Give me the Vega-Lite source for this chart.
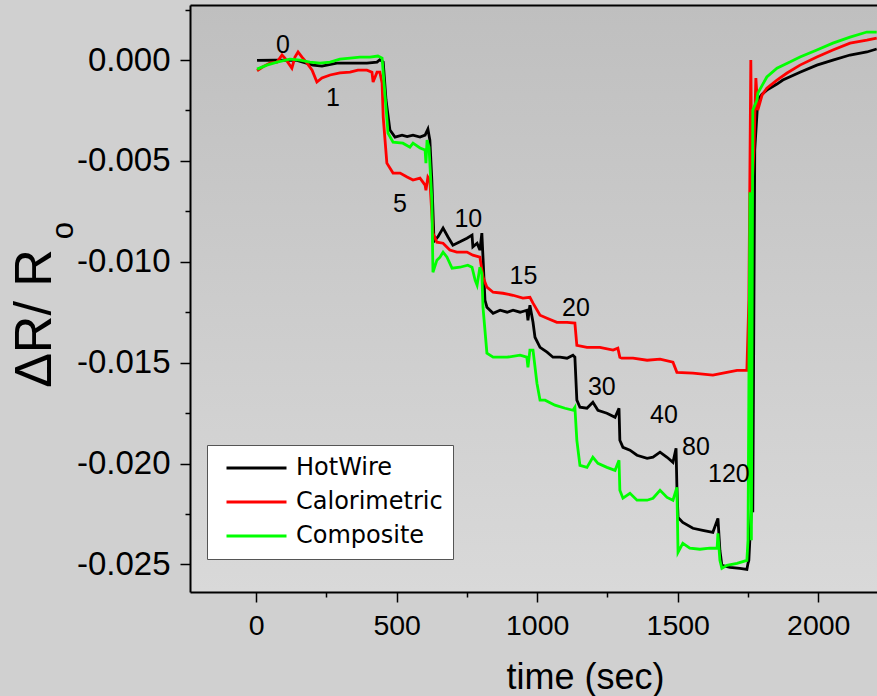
{
  "$schema": "https://vega.github.io/schema/vega-lite/v6.json",
  "width": 687,
  "height": 587,
  "autosize": {"type": "none"},
  "padding": {"left": 190, "top": 5, "right": 0, "bottom": 104},
  "background": "#d0d0d0",
  "config": {
    "view": {"stroke": null, "fill": {"gradient": "linear", "x1": 0, "y1": 0, "x2": 0, "y2": 1, "stops": [{"offset": 0, "color": "#bfbfbf"}, {"offset": 1, "color": "#d9d9d9"}]}},
    "axis": {"grid": false, "domainColor": "#000000", "domainWidth": 2, "tickColor": "#000000", "tickWidth": 1.5, "labelColor": "#000000", "titleColor": "#000000", "labelFont": "Liberation Sans", "titleFont": "Liberation Sans", "titleFontWeight": "normal"},
    "text": {"font": "Liberation Sans"}
  },
  "datasets": {
    "series": [
      {"s":"HotWire","t":3,"y":-0.00002},{"s":"HotWire","t":67,"y":0},{"s":"HotWire","t":145,"y":-0.00002},{"s":"HotWire","t":202,"y":-0.00025},{"s":"HotWire","t":234,"y":-0.0003},{"s":"HotWire","t":287,"y":-0.00015},{"s":"HotWire","t":344,"y":-0.00015},{"s":"HotWire","t":394,"y":-0.00015},{"s":"HotWire","t":430,"y":-0.0001},{"s":"HotWire","t":440,"y":0.00002},{"s":"HotWire","t":452,"y":-0.0001},{"s":"HotWire","t":462,"y":-0.00198},{"s":"HotWire","t":476,"y":-0.00347},{"s":"HotWire","t":494,"y":-0.00382},{"s":"HotWire","t":519,"y":-0.00372},{"s":"HotWire","t":537,"y":-0.00379},{"s":"HotWire","t":558,"y":-0.00372},{"s":"HotWire","t":583,"y":-0.00382},{"s":"HotWire","t":601,"y":-0.00372},{"s":"HotWire","t":611,"y":-0.00342},{"s":"HotWire","t":618,"y":-0.00397},{"s":"HotWire","t":625,"y":-0.00595},{"s":"HotWire","t":632,"y":-0.00868},{"s":"HotWire","t":636,"y":-0.00893},{"s":"HotWire","t":647,"y":-0.00876},{"s":"HotWire","t":665,"y":-0.00833},{"s":"HotWire","t":682,"y":-0.00876},{"s":"HotWire","t":700,"y":-0.00918},{"s":"HotWire","t":725,"y":-0.00901},{"s":"HotWire","t":750,"y":-0.00883},{"s":"HotWire","t":768,"y":-0.00868},{"s":"HotWire","t":771,"y":-0.00926},{"s":"HotWire","t":786,"y":-0.00908},{"s":"HotWire","t":796,"y":-0.00942},{"s":"HotWire","t":803,"y":-0.00858},{"s":"HotWire","t":807,"y":-0.00977},{"s":"HotWire","t":814,"y":-0.0119},{"s":"HotWire","t":821,"y":-0.01225},{"s":"HotWire","t":843,"y":-0.01255},{"s":"HotWire","t":868,"y":-0.0124},{"s":"HotWire","t":893,"y":-0.0125},{"s":"HotWire","t":914,"y":-0.0124},{"s":"HotWire","t":939,"y":-0.0125},{"s":"HotWire","t":963,"y":-0.0124},{"s":"HotWire","t":967,"y":-0.0129},{"s":"HotWire","t":974,"y":-0.01215},{"s":"HotWire","t":985,"y":-0.013},{"s":"HotWire","t":992,"y":-0.01374},{"s":"HotWire","t":1010,"y":-0.01424},{"s":"HotWire","t":1035,"y":-0.01448},{"s":"HotWire","t":1056,"y":-0.01473},{"s":"HotWire","t":1081,"y":-0.01473},{"s":"HotWire","t":1106,"y":-0.01478},{"s":"HotWire","t":1127,"y":-0.01463},{"s":"HotWire","t":1134,"y":-0.01473},{"s":"HotWire","t":1141,"y":-0.01686},{"s":"HotWire","t":1152,"y":-0.01721},{"s":"HotWire","t":1177,"y":-0.01726},{"s":"HotWire","t":1198,"y":-0.01696},{"s":"HotWire","t":1216,"y":-0.01736},{"s":"HotWire","t":1248,"y":-0.01751},{"s":"HotWire","t":1277,"y":-0.01771},{"s":"HotWire","t":1291,"y":-0.01726},{"s":"HotWire","t":1294,"y":-0.01885},{"s":"HotWire","t":1305,"y":-0.0192},{"s":"HotWire","t":1330,"y":-0.01934},{"s":"HotWire","t":1355,"y":-0.01959},{"s":"HotWire","t":1391,"y":-0.01974},{"s":"HotWire","t":1412,"y":-0.01969},{"s":"HotWire","t":1437,"y":-0.01944},{"s":"HotWire","t":1462,"y":-0.01969},{"s":"HotWire","t":1483,"y":-0.01994},{"s":"HotWire","t":1494,"y":-0.01924},{"s":"HotWire","t":1497,"y":-0.02118},{"s":"HotWire","t":1501,"y":-0.02267},{"s":"HotWire","t":1518,"y":-0.02292},{"s":"HotWire","t":1554,"y":-0.02321},{"s":"HotWire","t":1589,"y":-0.02331},{"s":"HotWire","t":1625,"y":-0.02341},{"s":"HotWire","t":1643,"y":-0.02272},{"s":"HotWire","t":1650,"y":-0.0243},{"s":"HotWire","t":1657,"y":-0.02505},{"s":"HotWire","t":1686,"y":-0.02515},{"s":"HotWire","t":1721,"y":-0.0252},{"s":"HotWire","t":1746,"y":-0.02525},{"s":"HotWire","t":1750,"y":-0.02495},{"s":"HotWire","t":1753,"y":-0.0248},{"s":"HotWire","t":1764,"y":-0.02168},{"s":"HotWire","t":1767,"y":-0.02242},{"s":"HotWire","t":1774,"y":-0.00446},{"s":"HotWire","t":1785,"y":-0.00198},{"s":"HotWire","t":1800,"y":-0.00169},{"s":"HotWire","t":1817,"y":-0.00149},{"s":"HotWire","t":1853,"y":-0.00119},{"s":"HotWire","t":1874,"y":-0.00099},{"s":"HotWire","t":1935,"y":-0.0006},{"s":"HotWire","t":1995,"y":-0.00025},{"s":"HotWire","t":2052,"y":0},{"s":"HotWire","t":2113,"y":0.00025},{"s":"HotWire","t":2173,"y":0.0004},{"s":"HotWire","t":2208,"y":0.00055},
      {"s":"Calorimetric","t":3,"y":-0.00053},{"s":"Calorimetric","t":24,"y":-0.00033},{"s":"Calorimetric","t":49,"y":-0.00015},{"s":"Calorimetric","t":74,"y":-0.0001},{"s":"Calorimetric","t":92,"y":0.00025},{"s":"Calorimetric","t":102,"y":0.0001},{"s":"Calorimetric","t":127,"y":-0.0004},{"s":"Calorimetric","t":138,"y":0.00015},{"s":"Calorimetric","t":149,"y":0.0004},{"s":"Calorimetric","t":163,"y":0.00015},{"s":"Calorimetric","t":181,"y":-0.00015},{"s":"Calorimetric","t":199,"y":-0.0005},{"s":"Calorimetric","t":216,"y":-0.00109},{"s":"Calorimetric","t":234,"y":-0.00089},{"s":"Calorimetric","t":263,"y":-0.00074},{"s":"Calorimetric","t":298,"y":-0.00064},{"s":"Calorimetric","t":334,"y":-0.0006},{"s":"Calorimetric","t":362,"y":-0.0005},{"s":"Calorimetric","t":394,"y":-0.0005},{"s":"Calorimetric","t":412,"y":-0.0006},{"s":"Calorimetric","t":416,"y":-0.00109},{"s":"Calorimetric","t":430,"y":-0.0006},{"s":"Calorimetric","t":440,"y":-0.0006},{"s":"Calorimetric","t":448,"y":-0.00114},{"s":"Calorimetric","t":452,"y":-0.00283},{"s":"Calorimetric","t":465,"y":-0.00511},{"s":"Calorimetric","t":487,"y":-0.0056},{"s":"Calorimetric","t":512,"y":-0.0056},{"s":"Calorimetric","t":537,"y":-0.0058},{"s":"Calorimetric","t":558,"y":-0.00595},{"s":"Calorimetric","t":583,"y":-0.00585},{"s":"Calorimetric","t":601,"y":-0.0062},{"s":"Calorimetric","t":604,"y":-0.00645},{"s":"Calorimetric","t":611,"y":-0.0058},{"s":"Calorimetric","t":618,"y":-0.00595},{"s":"Calorimetric","t":629,"y":-0.00858},{"s":"Calorimetric","t":643,"y":-0.00903},{"s":"Calorimetric","t":665,"y":-0.00908},{"s":"Calorimetric","t":689,"y":-0.00942},{"s":"Calorimetric","t":714,"y":-0.00952},{"s":"Calorimetric","t":750,"y":-0.00952},{"s":"Calorimetric","t":771,"y":-0.00967},{"s":"Calorimetric","t":796,"y":-0.00977},{"s":"Calorimetric","t":807,"y":-0.01076},{"s":"Calorimetric","t":821,"y":-0.01126},{"s":"Calorimetric","t":843,"y":-0.01151},{"s":"Calorimetric","t":878,"y":-0.01156},{"s":"Calorimetric","t":914,"y":-0.01166},{"s":"Calorimetric","t":949,"y":-0.0118},{"s":"Calorimetric","t":974,"y":-0.01176},{"s":"Calorimetric","t":985,"y":-0.01205},{"s":"Calorimetric","t":1010,"y":-0.01265},{"s":"Calorimetric","t":1035,"y":-0.0128},{"s":"Calorimetric","t":1070,"y":-0.013},{"s":"Calorimetric","t":1106,"y":-0.013},{"s":"Calorimetric","t":1134,"y":-0.01304},{"s":"Calorimetric","t":1141,"y":-0.01414},{"s":"Calorimetric","t":1177,"y":-0.01424},{"s":"Calorimetric","t":1223,"y":-0.01424},{"s":"Calorimetric","t":1270,"y":-0.01438},{"s":"Calorimetric","t":1287,"y":-0.01428},{"s":"Calorimetric","t":1294,"y":-0.01473},{"s":"Calorimetric","t":1301,"y":-0.01478},{"s":"Calorimetric","t":1341,"y":-0.01478},{"s":"Calorimetric","t":1391,"y":-0.01488},{"s":"Calorimetric","t":1437,"y":-0.01483},{"s":"Calorimetric","t":1483,"y":-0.01498},{"s":"Calorimetric","t":1497,"y":-0.01548},{"s":"Calorimetric","t":1554,"y":-0.01552},{"s":"Calorimetric","t":1625,"y":-0.01562},{"s":"Calorimetric","t":1661,"y":-0.01552},{"s":"Calorimetric","t":1711,"y":-0.01538},{"s":"Calorimetric","t":1746,"y":-0.01538},{"s":"Calorimetric","t":1753,"y":-0.0119},{"s":"Calorimetric","t":1760,"y":0},{"s":"Calorimetric","t":1764,"y":-0.00645},{"s":"Calorimetric","t":1771,"y":-0.00446},{"s":"Calorimetric","t":1778,"y":-0.00089},{"s":"Calorimetric","t":1785,"y":-0.00248},{"s":"Calorimetric","t":1800,"y":-0.00174},{"s":"Calorimetric","t":1817,"y":-0.00139},{"s":"Calorimetric","t":1853,"y":-0.00099},{"s":"Calorimetric","t":1889,"y":-0.00064},{"s":"Calorimetric","t":1935,"y":-0.00025},{"s":"Calorimetric","t":1995,"y":0.00015},{"s":"Calorimetric","t":2052,"y":0.0005},{"s":"Calorimetric","t":2113,"y":0.00084},{"s":"Calorimetric","t":2173,"y":0.00099},{"s":"Calorimetric","t":2208,"y":0.00109},
      {"s":"Composite","t":3,"y":-0.00045},{"s":"Composite","t":38,"y":-0.00025},{"s":"Composite","t":74,"y":-0.0001},{"s":"Composite","t":120,"y":0.00005},{"s":"Composite","t":156,"y":0},{"s":"Composite","t":191,"y":-0.0001},{"s":"Composite","t":227,"y":-0.00015},{"s":"Composite","t":263,"y":-0.0001},{"s":"Composite","t":298,"y":0.00005},{"s":"Composite","t":334,"y":0.0001},{"s":"Composite","t":369,"y":0.00015},{"s":"Composite","t":405,"y":0.00015},{"s":"Composite","t":433,"y":0.0002},{"s":"Composite","t":448,"y":0.0001},{"s":"Composite","t":459,"y":-0.00184},{"s":"Composite","t":469,"y":-0.00362},{"s":"Composite","t":487,"y":-0.00407},{"s":"Composite","t":522,"y":-0.00412},{"s":"Composite","t":547,"y":-0.00432},{"s":"Composite","t":558,"y":-0.00412},{"s":"Composite","t":583,"y":-0.00436},{"s":"Composite","t":601,"y":-0.00446},{"s":"Composite","t":604,"y":-0.00511},{"s":"Composite","t":608,"y":-0.00397},{"s":"Composite","t":615,"y":-0.00432},{"s":"Composite","t":625,"y":-0.00694},{"s":"Composite","t":629,"y":-0.01052},{"s":"Composite","t":643,"y":-0.00992},{"s":"Composite","t":654,"y":-0.00977},{"s":"Composite","t":665,"y":-0.00952},{"s":"Composite","t":679,"y":-0.00977},{"s":"Composite","t":697,"y":-0.01032},{"s":"Composite","t":725,"y":-0.01027},{"s":"Composite","t":753,"y":-0.01017},{"s":"Composite","t":768,"y":-0.01027},{"s":"Composite","t":779,"y":-0.01091},{"s":"Composite","t":786,"y":-0.01116},{"s":"Composite","t":796,"y":-0.01027},{"s":"Composite","t":803,"y":-0.01057},{"s":"Composite","t":807,"y":-0.01225},{"s":"Composite","t":821,"y":-0.01453},{"s":"Composite","t":843,"y":-0.01473},{"s":"Composite","t":893,"y":-0.01473},{"s":"Composite","t":939,"y":-0.01463},{"s":"Composite","t":963,"y":-0.01473},{"s":"Composite","t":967,"y":-0.01523},{"s":"Composite","t":974,"y":-0.01438},{"s":"Composite","t":985,"y":-0.01438},{"s":"Composite","t":999,"y":-0.01602},{"s":"Composite","t":1010,"y":-0.01686},{"s":"Composite","t":1028,"y":-0.01686},{"s":"Composite","t":1063,"y":-0.01711},{"s":"Composite","t":1099,"y":-0.01726},{"s":"Composite","t":1127,"y":-0.01736},{"s":"Composite","t":1134,"y":-0.01721},{"s":"Composite","t":1141,"y":-0.01885},{"s":"Composite","t":1152,"y":-0.02009},{"s":"Composite","t":1177,"y":-0.02019},{"s":"Composite","t":1198,"y":-0.01969},{"s":"Composite","t":1216,"y":-0.01999},{"s":"Composite","t":1248,"y":-0.02019},{"s":"Composite","t":1277,"y":-0.02034},{"s":"Composite","t":1291,"y":-0.01984},{"s":"Composite","t":1294,"y":-0.02133},{"s":"Composite","t":1305,"y":-0.02172},{"s":"Composite","t":1330,"y":-0.02148},{"s":"Composite","t":1355,"y":-0.02182},{"s":"Composite","t":1391,"y":-0.02182},{"s":"Composite","t":1412,"y":-0.02172},{"s":"Composite","t":1437,"y":-0.02133},{"s":"Composite","t":1462,"y":-0.02168},{"s":"Composite","t":1483,"y":-0.02182},{"s":"Composite","t":1497,"y":-0.02118},{"s":"Composite","t":1501,"y":-0.0244},{"s":"Composite","t":1518,"y":-0.02396},{"s":"Composite","t":1543,"y":-0.0242},{"s":"Composite","t":1579,"y":-0.02425},{"s":"Composite","t":1614,"y":-0.0242},{"s":"Composite","t":1640,"y":-0.0242},{"s":"Composite","t":1643,"y":-0.02346},{"s":"Composite","t":1650,"y":-0.0248},{"s":"Composite","t":1657,"y":-0.0252},{"s":"Composite","t":1675,"y":-0.02505},{"s":"Composite","t":1711,"y":-0.02495},{"s":"Composite","t":1746,"y":-0.0248},{"s":"Composite","t":1750,"y":-0.02381},{"s":"Composite","t":1757,"y":-0.00655},{"s":"Composite","t":1762,"y":-0.02381},{"s":"Composite","t":1767,"y":-0.00248},{"s":"Composite","t":1782,"y":-0.00198},{"s":"Composite","t":1785,"y":-0.00164},{"s":"Composite","t":1817,"y":-0.00084},{"s":"Composite","t":1853,"y":-0.0004},{"s":"Composite","t":1899,"y":-0.0001},{"s":"Composite","t":1935,"y":0.00015},{"s":"Composite","t":1995,"y":0.0005},{"s":"Composite","t":2052,"y":0.00084},{"s":"Composite","t":2113,"y":0.00114},{"s":"Composite","t":2173,"y":0.00139},{"s":"Composite","t":2208,"y":0.00139}
    ],
    "labels": [
      {"label":"0","t":95,"y":0.00077},{"label":"1","t":273,"y":-0.00188},{"label":"5","t":512,"y":-0.00714},{"label":"10","t":755,"y":-0.00789},{"label":"15","t":951,"y":-0.01071},{"label":"20","t":1138,"y":-0.01228},{"label":"30","t":1230,"y":-0.01622},{"label":"40","t":1451,"y":-0.01761},{"label":"80","t":1565,"y":-0.0192},{"label":"120","t":1682,"y":-0.02054}
    ]
  },
  "layer": [
    {
      "data": {"name": "series"},
      "mark": {"type": "line", "strokeWidth": 2.8, "clip": true},
      "encoding": {
        "x": {"field": "t", "type": "quantitative", "scale": {"domain": [-235.5, 2209], "nice": false, "zero": false},
          "axis": {"orient": "bottom", "title": "time (sec)", "values": [0, 500, 1000, 1500, 2000], "format": "d", "tickSize": 10, "labelFontSize": 28.5, "labelPadding": 9, "labelFlush": false, "labelOverlap": false, "titleFontSize": 36, "titleX": 395, "titleY": 96, "titleAlign": "center", "titleBaseline": "alphabetic"}},
        "y": {"field": "y", "type": "quantitative", "scale": {"domain": [-0.02637, 0.00273], "nice": false, "zero": false},
          "axis": {"orient": "left", "title": "ΔR/ R", "values": [-0.025, -0.02, -0.015, -0.01, -0.005, 0], "labelExpr": "replace(format(datum.value, '.3f'), '\u2212', '-')", "tickSize": 10, "labelFontSize": 33, "labelPadding": 10, "labelFlush": false, "labelOverlap": false, "titleFontSize": 52, "titleX": -140, "titleY": 313, "titleAlign": "center", "titleBaseline": "alphabetic", "titleAngle": 270}},
        "color": {"field": "s", "type": "nominal", "scale": {"domain": ["HotWire", "Calorimetric", "Composite"], "range": ["#000000", "#ff0000", "#00ff00"]},
          "legend": {"title": null, "orient": "none", "legendX": 17, "legendY": 440, "fillColor": "#ffffff", "strokeColor": "#555555", "padding": 10, "symbolType": "stroke", "symbolSize": 3600, "symbolStrokeWidth": 3, "symbolOffset": 8, "labelFont": "DejaVu Sans", "labelFontSize": 24, "labelColor": "#000000", "labelOffset": 8, "clipHeight": 26, "rowPadding": 8, "labelLimit": 300}}
      }
    },
    {
      "data": {"name": "labels"},
      "mark": {"type": "text", "fontSize": 25, "color": "#000000", "align": "center", "baseline": "middle"},
      "encoding": {
        "x": {"field": "t", "type": "quantitative", "axis": {"orient": "top", "labels": false, "ticks": false, "title": null, "domainWidth": 2}},
        "y": {"field": "y", "type": "quantitative", "axis": {"orient": "left", "title": "o", "labels": false, "ticks": false, "domain": false, "titleFontSize": 31, "titleX": -127, "titleY": 225, "titleAlign": "center", "titleBaseline": "middle", "titleAngle": 270}},
        "text": {"field": "label"}
      }
    },
    {
      "data": {"name": "labels"},
      "mark": {"type": "point", "opacity": 0},
      "encoding": {
        "x": {"field": "t", "type": "quantitative", "axis": {"orient": "bottom", "values": [250, 750, 1250, 1750], "labels": false, "domain": false, "tickSize": 5, "title": null}},
        "y": {"field": "y", "type": "quantitative", "axis": {"orient": "left", "values": [-0.0225, -0.0175, -0.0125, -0.0075, -0.0025, 0.0025], "labels": false, "domain": false, "tickSize": 5, "title": null}}
      }
    }
  ],
  "resolve": {"axis": {"x": "independent", "y": "independent"}}
}
